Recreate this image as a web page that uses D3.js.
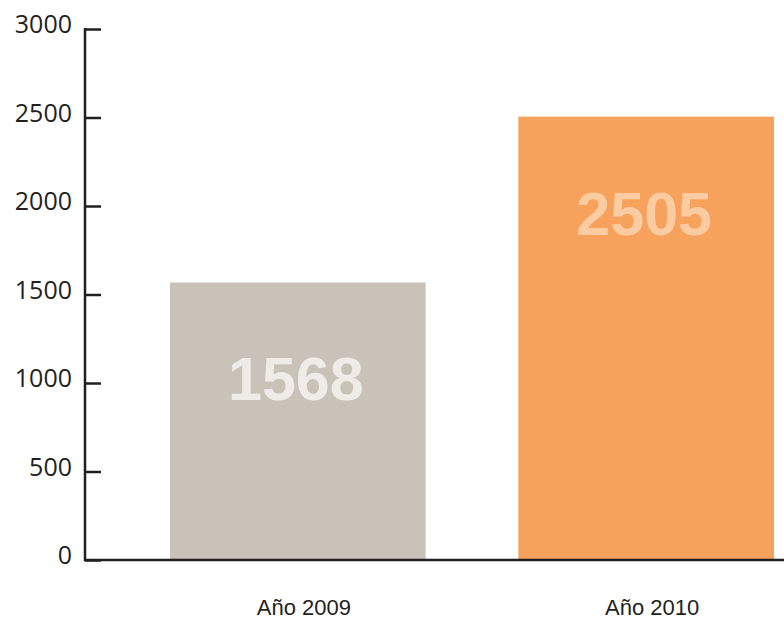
<!DOCTYPE html>
<html>
<head>
<meta charset="utf-8">
<script src="https://cdn.jsdelivr.net/npm/d3@7"></script>
<style>
  html, body { margin: 0; padding: 0; background: #fff; overflow: hidden; }
  svg { display: block; }
</style>
</head>
<body>
<script>
// data
var years = ["Año 2009", "Año 2010"];
var values = [1568, 2505];
var barColors = ["#c9c2b9", "#f6a25c"];
var labelColors = ["#efece8", "#fbcba2"];
var yTicks = [0, 500, 1000, 1500, 2000, 2500, 3000];

var width = 784,
    height = 622;

var svg = d3.select("body")
    .append("svg")
    .attr("width", width)
    .attr("height", height);

var axisX = 85,      // vertical axis position
    baseY = 560;     // zero line

var y = d3.scaleLinear()
    .domain([0, 3000])
    .range([baseY, 29]);

var x = d3.scaleBand()
    .domain(years)
    .range([axisX, 859])
    .paddingInner(0.266)
    .paddingOuter(0.244);

// bars
svg.selectAll("rect.bar")
    .data(values)
    .enter()
    .append("rect")
    .attr("class", "bar")
    .attr("x", (d, i) => x(years[i]))
    .attr("y", d => y(d))
    .attr("width", x.bandwidth())
    .attr("height", d => baseY - y(d))
    .attr("fill", (d, i) => barColors[i]);

// value labels inside bars
svg.selectAll("text.val")
    .data(values)
    .enter()
    .append("text")
    .attr("class", "val")
    .attr("x", (d, i) => x(years[i]) + x.bandwidth() / 2 - 2)
    .attr("y", d => y(d) + 118)
    .attr("text-anchor", "middle")
    .style("font-family", "'Liberation Sans', Arial, sans-serif")
    .style("font-weight", "bold")
    .style("font-size", "61px")
    .style("fill", (d, i) => labelColors[i])
    .text(d => d);

// y axis, ticks point to the right
var yAxis = d3.axisRight(y)
    .tickValues(yTicks)
    .tickSize(16)
    .tickFormat(d3.format("d"));

var gy = svg.append("g")
    .attr("transform", "translate(" + axisX + ",0)")
    .call(yAxis);

gy.select(".domain").remove();
gy.selectAll(".tick line")
    .attr("stroke", "#231f20")
    .attr("stroke-width", 2.5);
gy.selectAll(".tick text")
    .attr("x", -13)
    .attr("dy", "0.15em")
    .attr("text-anchor", "end")
    .style("font-family", "'Open Sans', sans-serif")
    .style("font-size", "25px")
    .style("fill", "#231f20");

// axis lines
svg.append("line")
    .attr("x1", axisX).attr("x2", axisX)
    .attr("y1", y(3000) - 1).attr("y2", baseY + 1)
    .attr("stroke", "#231f20")
    .attr("stroke-width", 2.5);

svg.append("line")
    .attr("x1", axisX - 1).attr("x2", width)
    .attr("y1", baseY).attr("y2", baseY)
    .attr("stroke", "#231f20")
    .attr("stroke-width", 2.5);

// category labels
svg.selectAll("text.cat")
    .data(years)
    .enter()
    .append("text")
    .attr("class", "cat")
    .attr("x", d => x(d) + x.bandwidth() / 2 + 6)
    .attr("y", 615)
    .attr("text-anchor", "middle")
    .style("font-family", "'Liberation Sans', Arial, sans-serif")
    .style("font-size", "22px")
    .style("fill", "#231f20")
    .text(d => d);
</script>
</body>
</html>
